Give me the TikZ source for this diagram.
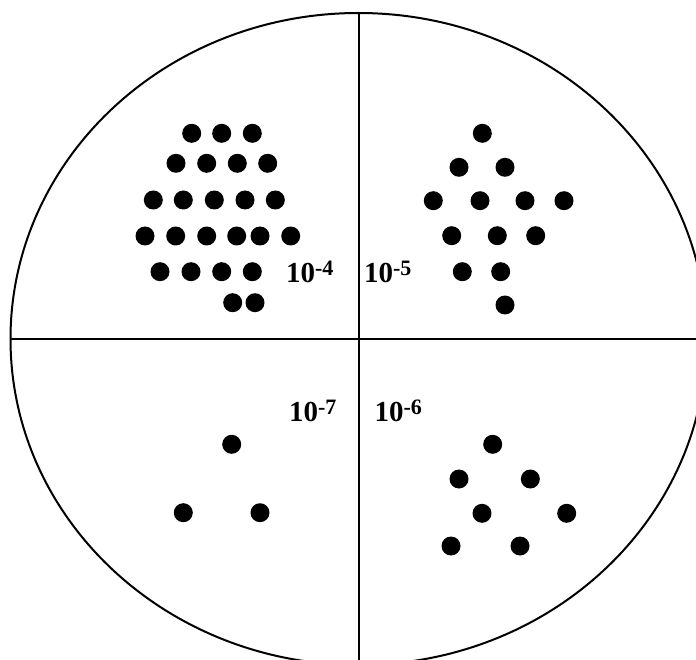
\documentclass[tikz,border=0pt]{standalone}
\usepackage{fontspec}
\setmainfont{Liberation Serif}
\usetikzlibrary{shapes.geometric}
\tikzset{
  dot/.style={circle,fill=black,draw=none,minimum size=19pt,inner sep=0pt},
  lbl/.style={anchor=base west,inner sep=0pt,outer sep=0pt},
  rule/.style={line width=2pt,draw=black}
}
\newcommand{\expo}[1]{\textbf{\fontsize{29}{29}\selectfont 10\raisebox{7pt}{\fontsize{22}{22}\selectfont -#1}}}
\begin{document}
\begin{tikzpicture}[x=1pt,y=-1pt]
\useasboundingbox (0,0) rectangle (696,660);
\clip (0,0) rectangle (696,660);
\fill[white] (0,0) rectangle (696,660);
\node[ellipse,rule,minimum width=696pt,minimum height=652pt,inner sep=0pt] (disc) at (358.5,339) {};
\draw[rule] (disc.north) -- (disc.south);
\draw[rule] (disc.west) -- (disc.east);
% quadrant 10^-4
\foreach \x/\y [count=\i] in {191.7/133.3,221.7/133.3,252.3/133.3,
  176/163.3,206.7/163.3,237.3/163.3,267.7/163.3,
  153.3/200,183.3/200,214.3/200,245/200,275.3/200,
  145/236,175.7/236,206.7/236,236.7/236,260/236,290.7/236,
  160/271.7,191/271.7,221.7/271.7,252.3/271.7,
  232.7/302.7,255/302.7}
  \node[dot] (a\i) at (\x,\y) {};
% quadrant 10^-5
\foreach \x/\y [count=\i] in {482.3/133.3,
  459/167.3,505/167.3,
  433.3/200.7,480/200.7,525/200.7,564/200.7,
  451.7/235.7,497.3/235.7,535.7/235.7,
  462.3/271.7,500.7/271.7,
  505/305}
  \node[dot] (b\i) at (\x,\y) {};
% quadrant 10^-7
\foreach \x/\y [count=\i] in {231.7/444.3,183.3/512.7,260/512.7}
  \node[dot] (c\i) at (\x,\y) {};
% quadrant 10^-6
\foreach \x/\y [count=\i] in {492.7/444.3,459/479,530.3/479,482/513.3,566.7/513.3,451/546,520/546}
  \node[dot] (d\i) at (\x,\y) {};
\node[lbl] (l4) at (286,282.7) {\expo{4}};
\node[lbl] (l5) at (364,282.7) {\expo{5}};
\node[lbl] (l7) at (289,421.7) {\expo{7}};
\node[lbl] (l6) at (374.5,421.7) {\expo{6}};
\end{tikzpicture}
\end{document}
